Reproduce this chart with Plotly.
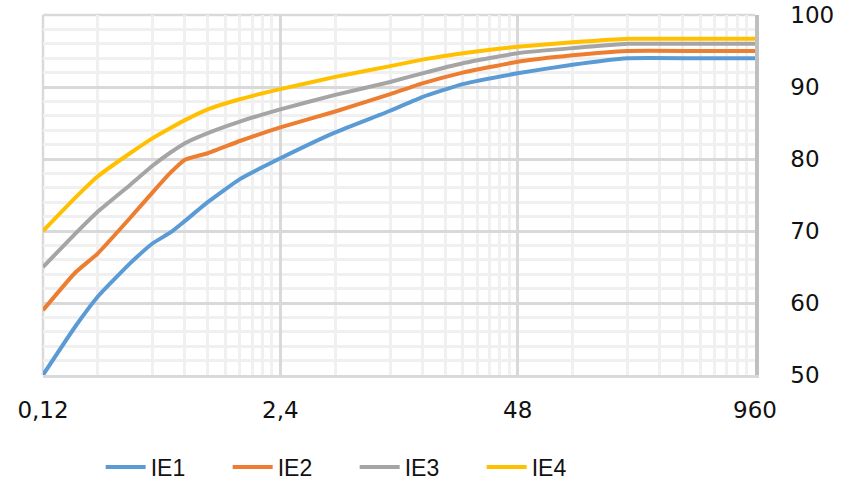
import plotly.graph_objects as go

# Exposure (log scale) and the four IE series
x_vals = [0.12, 0.18, 0.24, 0.36, 0.48, 0.6, 0.72, 0.96, 1.44, 2.4, 4.8, 9.6,
          14.4, 24, 48, 96, 192, 480, 960]
ie1 = [50.0, 56.7, 60.9, 65.5, 68.3, 69.8, 71.4, 74.0, 77.2, 80.1, 83.7, 86.7,
       88.6, 90.4, 91.9, 93.1, 94.0, 94.0, 94.0]
ie2 = [59.0, 64.2, 66.9, 71.8, 75.4, 78.1, 79.9, 80.8, 82.5, 84.4, 86.6, 89.0,
       90.5, 92.0, 93.5, 94.4, 95.0, 95.0, 95.0]
ie3 = [65.0, 69.6, 72.7, 76.4, 79.1, 80.9, 82.2, 83.6, 85.2, 86.9, 88.9, 90.7,
       91.9, 93.3, 94.7, 95.4, 96.0, 96.0, 96.0]
ie4 = [70.0, 74.6, 77.6, 80.8, 82.9, 84.3, 85.4, 86.9, 88.3, 89.7, 91.4, 92.9,
       93.8, 94.7, 95.6, 96.2, 96.7, 96.7, 96.7]

series_names = ["IE1", "IE2", "IE3", "IE4"]
series_values = [ie1, ie2, ie3, ie4]
series_colors = ["#5B9BD5", "#ED7D31", "#A5A5A5", "#FFC000"]

x_tickvals = [0.12, 2.4, 48, 960]
x_ticktext = ["0,12", "2,4", "48", "960"]

# minor grid every 2 units of each base-20 step
x_minor = [m * k for m in (0.12, 2.4, 48) for k in range(2, 20, 2)]

fig = go.Figure()
for name, vals, col in zip(series_names, series_values, series_colors):
    fig.add_trace(go.Scatter(
        x=x_vals, y=vals, name=name, mode="lines",
        line=dict(color=col, width=4, shape="spline", smoothing=0.4),
    ))

fig.update_layout(
    width=851, height=490,
    margin=dict(l=43, r=96, t=15, b=115, autoexpand=False),
    plot_bgcolor="white", paper_bgcolor="white",
    font=dict(family="DejaVu Sans", size=23, color="#111111"),
    legend=dict(
        orientation="h", x=0.081, xanchor="left",
        yref="container", y=0.047, yanchor="middle",
        entrywidth=72, entrywidthmode="pixels",
        font=dict(family="Liberation Sans", size=23, color="#111111"),
        itemwidth=40,
    ),
    showlegend=True,
)

fig.update_xaxes(
    type="log", range=[-0.9208, 2.9823], automargin=False,
    tickmode="array", tickvals=x_tickvals, ticktext=x_ticktext,
    showgrid=True, gridcolor="#D9D9D9", gridwidth=2.5,
    minor=dict(tickmode="array", tickvals=x_minor, showgrid=True,
               gridcolor="#F0F0F0", gridwidth=2.5),
    showline=True, linecolor="#D9D9D9", linewidth=2.5, mirror=False,
    zeroline=False, ticks="", ticklabelstandoff=13,
)

fig.update_yaxes(
    side="right", range=[50, 100], dtick=10, tick0=50, automargin=False,
    showgrid=True, gridcolor="#D9D9D9", gridwidth=2.5,
    minor=dict(dtick=2, showgrid=True, gridcolor="#F0F0F0", gridwidth=2.5),
    showline=True, linecolor="#BFBFBF", linewidth=3.5, mirror=False,
    zeroline=False, ticks="", ticklabelstandoff=27,
)

# left and top edges of the plotting frame
fig.add_shape(type="line", xref="paper", yref="paper", x0=0, x1=0, y0=0, y1=1,
              line=dict(color="#D9D9D9", width=2.5), layer="below")
fig.add_shape(type="line", xref="paper", yref="paper", x0=0, x1=1, y0=1, y1=1,
              line=dict(color="#D9D9D9", width=2.5), layer="below")

fig.write_html("out.html")
